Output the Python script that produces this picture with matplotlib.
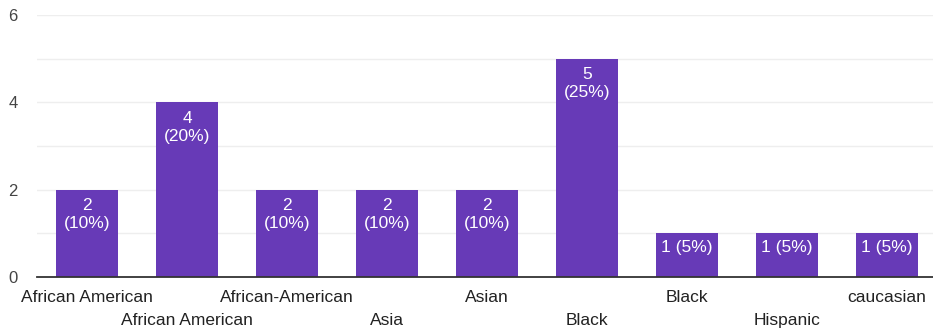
import matplotlib.pyplot as plt

categories = ["African American", "African American", "African-American", "Asia", "Asian",
              "Black", "Black", "Hispanic", "caucasian"]
counts = [2, 4, 2, 2, 2, 5, 1, 1, 1]
percents = [10, 20, 10, 10, 10, 25, 5, 5, 5]

plt.rcParams["font.family"] = ["Liberation Sans", "DejaVu Sans"]

fig = plt.figure(figsize=(9.33, 3.29), dpi=100)
ax = fig.add_axes([37 / 933, 1 - 277 / 329, (933 - 37) / 933, (277 - 15) / 329])

x = list(range(len(categories)))
bars = ax.bar(x, counts, width=0.62, color="#673ab7", zorder=3)

ax.set_xlim(-0.5, 8.46)
ax.set_ylim(0, 6)
ax.set_yticks([0, 2, 4, 6])
ax.set_yticks([1, 3, 5], minor=True)
ax.tick_params(axis="y", which="both", length=0, labelsize=12, labelcolor="#444444", pad=14)
ax.grid(axis="y", which="both", color="#eeeeee", linewidth=1, zorder=0)
ax.set_xticks([])

for s in ["top", "right", "left"]:
    ax.spines[s].set_visible(False)
ax.spines["bottom"].set_color("#333333")
ax.spines["bottom"].set_linewidth(1.3)
ax.spines["bottom"].set_zorder(4)

for b, c, p in zip(bars, counts, percents):
    two_line = c >= 2
    label = f"{c}\n({p}%)" if two_line else f"{c} ({p}%)"
    ax.annotate(label, (b.get_x() + b.get_width() / 2, c),
                xytext=(0, -6 if two_line else -5),
                textcoords="offset points", ha="center", va="top", color="white",
                fontsize=12.5, linespacing=1.25, zorder=5)

# alternating two-row category labels
for i, name in enumerate(categories):
    dy = -15 if i % 2 == 0 else -31
    ax.annotate(name, (i, 0), xytext=(0, dy), textcoords="offset points",
                ha="center", va="center", fontsize=12.5, color="#222222",
                annotation_clip=False)

fig.savefig("out.png", dpi=100)
